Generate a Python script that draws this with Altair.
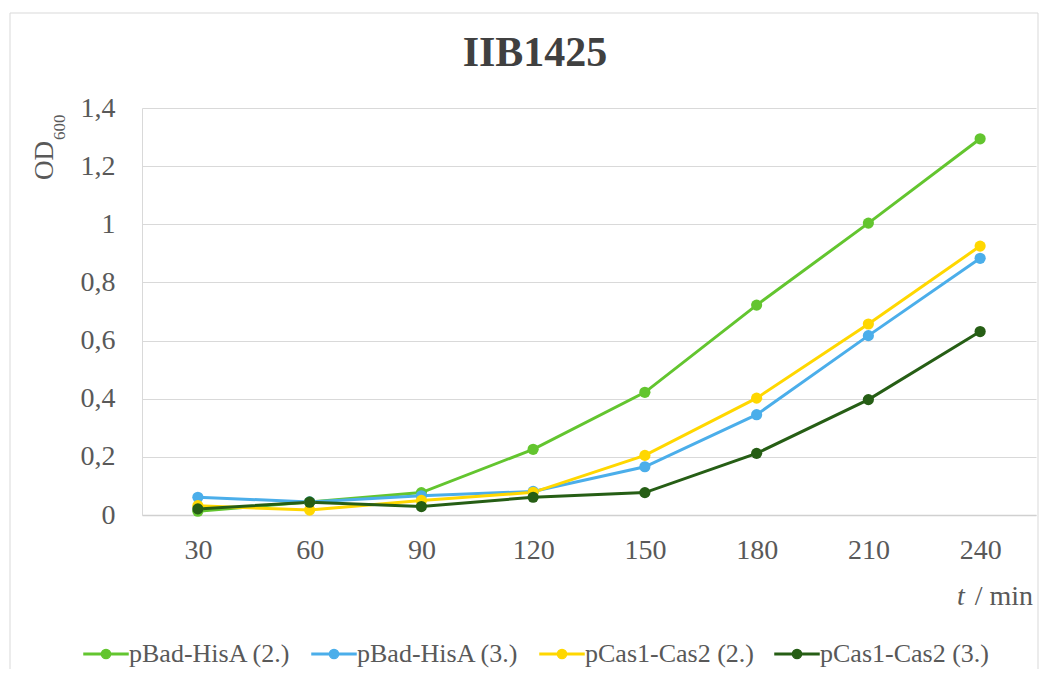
import altair as alt
import pandas as pd

times = ["30", "60", "90", "120", "150", "180", "210", "240"]
series = ["pBad-HisA (2.)", "pBad-HisA (3.)", "pCas1-Cas2 (2.)", "pCas1-Cas2 (3.)"]
pbad_2 = [0.013, 0.045, 0.077, 0.226, 0.422, 0.722, 1.004, 1.294]
pbad_3 = [0.061, 0.045, 0.066, 0.081, 0.166, 0.345, 0.617, 0.883]
pcas_2 = [0.032, 0.017, 0.050, 0.078, 0.205, 0.402, 0.657, 0.925]
pcas_3 = [0.021, 0.044, 0.029, 0.061, 0.077, 0.212, 0.397, 0.631]
colors = ["#63C52F", "#4BAEEA", "#FFD700", "#265E15"]
y_ticks = [0, 0.2, 0.4, 0.6, 0.8, 1.0, 1.2, 1.4]

rows = []
for s, vals in zip(series, [pbad_2, pbad_3, pcas_2, pcas_3]):
    for t, v in zip(times, vals):
        rows.append({"series": s, "t": t, "od": v})
df = pd.DataFrame(rows)

FONT = "Liberation Serif"
LABEL = "#595959"
GRID = "#d9d9d9"

x_enc = alt.X(
    "t:O", sort=times,
    scale=alt.Scale(type="point", padding=0.5),
    axis=alt.Axis(title=None, labelAngle=0, labelFont=FONT, labelFontSize=28,
                  labelColor=LABEL, labelPadding=21, ticks=False,
                  domainColor="#d0d0d0", domainWidth=1.5, grid=False),
)
y_enc = alt.Y(
    "od:Q",
    scale=alt.Scale(domain=[0, 1.4], nice=False, zero=True),
    axis=alt.Axis(title=None, values=y_ticks,
                  labelExpr="replace(format(datum.value, '.1~f'), '.', ',')",
                  labelFont=FONT, labelFontSize=28, labelColor=LABEL,
                  labelPadding=27, ticks=False, domain=True, domainColor=GRID,
                  domainWidth=1, gridColor=GRID, gridWidth=1),
)

SYMBOL = ("M-1,-0.035L1,-0.035L1,0.035L-1,0.035Z"
          "M-0.21,0A0.21,0.21,0,1,1,0.21,0A0.21,0.21,0,1,1,-0.21,0Z")

color_scale = alt.Scale(domain=series, range=colors)


def legend():
    return alt.Legend(
        title=None, orient="none", legendX=-59, legendY=523,
        direction="horizontal", columns=4, symbolType=SYMBOL,
        symbolSize=1936, symbolStrokeWidth=1.5, symbolOpacity=1,
        labelFont=FONT, labelFontSize=26, labelColor=LABEL,
        labelOffset=0, columnPadding=18, labelLimit=400,
    )


border = alt.Chart(pd.DataFrame({"b": [0]})).mark_rect(
    fill="white", fillOpacity=0, stroke=GRID, strokeWidth=1,
).encode(x=alt.value(-132), x2=alt.value(896), y=alt.value(-95), y2=alt.value(600))

lines = alt.Chart(df).mark_line(strokeWidth=3).encode(
    x=x_enc, y=y_enc,
    color=alt.Color("series:N", scale=color_scale, legend=legend()),
)
points = alt.Chart(df).mark_point(filled=True, size=125, opacity=1).encode(
    x=x_enc, y=y_enc,
    color=alt.Color("series:N", scale=color_scale, legend=legend()),
)

ytitle_main = alt.Chart(pd.DataFrame({"txt": ["OD"]})).mark_text(
    angle=270, align="left", baseline="alphabetic", font=FONT, fontSize=27,
    color=LABEL,
).encode(text="txt:N", x=alt.value(-88.7), y=alt.value(72))
ytitle_sub = alt.Chart(pd.DataFrame({"txt": ["600"]})).mark_text(
    angle=270, align="left", baseline="alphabetic", font=FONT, fontSize=17,
    color=LABEL,
).encode(text="txt:N", x=alt.value(-77), y=alt.value(32))

xtitle_t = alt.Chart(pd.DataFrame({"txt": ["t"]})).mark_text(
    align="left", baseline="alphabetic", font=FONT, fontSize=28,
    fontStyle="italic", color=LABEL,
).encode(text="txt:N", x=alt.value(815), y=alt.value(497))
xtitle_rest = alt.Chart(pd.DataFrame({"txt": ["/ min"]})).mark_text(
    align="right", baseline="alphabetic", font=FONT, fontSize=28,
    color=LABEL,
).encode(text="txt:N", x=alt.value(891), y=alt.value(497))

chart = alt.layer(border, lines, points, ytitle_main, ytitle_sub, xtitle_t, xtitle_rest).properties(
    width=894, height=407,
    padding={"left": 134, "top": 100, "right": 3, "bottom": 154},
    autosize=alt.AutoSizeParams(type="none"),
    background="white",
    title=alt.TitleParams(
        text="IIB1425", font=FONT, fontSize=42, fontWeight="bold",
        color="#404040", anchor="middle", frame="group", dx=-54,
        baseline="alphabetic", offset=-95,
    ),
).configure_view(stroke=None)

chart.save("out.html", embed_options={"renderer": "svg", "actions": False})
